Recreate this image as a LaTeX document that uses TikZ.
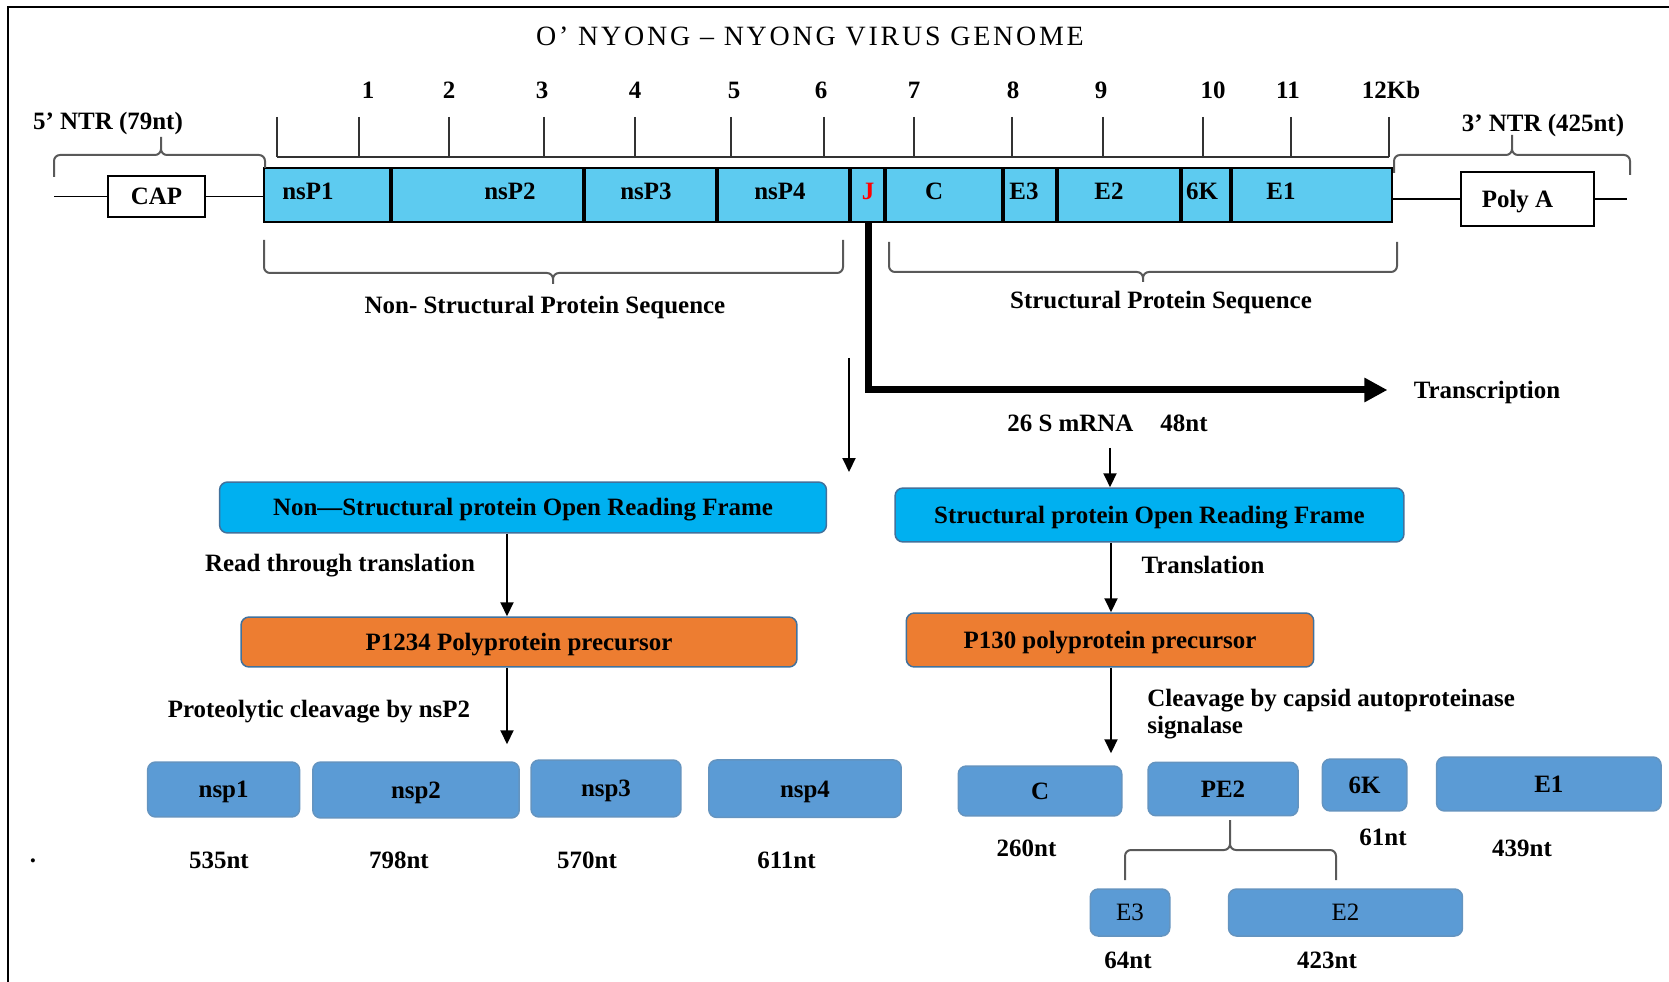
\documentclass[tikz,border=0pt]{standalone}
\usepackage{fontspec}
\setmainfont{Liberation Serif}
\usetikzlibrary{arrows.meta}
\definecolor{genoma}{RGB}{93,203,240}
\definecolor{orfblu}{RGB}{0,176,240}
\definecolor{arancio}{RGB}{237,125,49}
\definecolor{protblu}{RGB}{91,155,213}
\definecolor{bordo}{RGB}{65,113,156}
\tikzset{
  testo/.style={font={\fontsize{14.2}{15.5}\selectfont}, inner sep=0pt, text height=9.6pt, text depth=0pt},
  etich/.style={font={\fontsize{14.2}{15.5}\selectfont\bfseries}, inner sep=0pt, text height=9.6pt, text depth=0pt},
  titolo/.style={font={\fontsize{15.9}{18}\selectfont\addfontfeature{LetterSpace=10}}, inner sep=0pt},
  scatola/.style={etich, draw, rounded corners=0.16cm, line width=0.03cm},
  orf/.style={scatola, fill=orfblu, draw=bordo},
  prec/.style={scatola, fill=arancio, draw=bordo},
  prot/.style={scatola, fill=protblu, draw=protblu!75!gray},
  cassa/.style={etich, draw, fill=white, line width=0.04cm},
  freccia/.style={-{Triangle[length=0.28cm,width=0.26cm]}, line width=0.04cm},
  trascr/.style={-{Triangle[length=0.46cm,width=0.46cm]}, line width=0.14cm},
  graffa/.style={rounded corners=0.12cm, line width=0.04cm, draw=black!65},
  righello/.style={line width=0.04cm, draw=black!80},
}
\begin{document}
\begin{tikzpicture}[x=0.02cm, y=-0.02cm]
\useasboundingbox (0,0) rectangle (1669,982);
% cornice
\draw[line width=0.04cm] (8,7) rectangle (1700,1000);
% titolo
\node[titolo] (titolo) at (810,36) {O’ NYONG – NYONG VIRUS GENOME};
% righello
\draw[righello] (277,157) -- (1389,157);
\foreach \x in {277,359,449,544,635,731,824,914,1012,1103,1203,1291,1389}
  \draw[righello] (\x,117) -- (\x,157);
\foreach \x/\n in {368/1,449/2,542/3,635/4,734/5,821/6,914/7,1013/8,1101/9,1213/10,1288/11,1391/12Kb}
  \node[etich] (num\n) at (\x,90) {\n};
% genoma
\node[draw, fill=genoma, line width=0.04cm, minimum width=22.56cm, minimum height=1.08cm, inner sep=0pt] (barra) at (828,195) {};
\foreach \x in {391,584,717,850,885,1003,1057,1181,1231}
  \draw[line width=0.08cm] (\x,168) -- (\x,222);
\foreach \x/\t in {308/nsP1,510/nsP2,646/nsP3,780/nsP4,934/C,1024/E3,1109/E2,1202/6K,1281/E1}
  \node[etich] (g\t) at (\x,191) {\t};
\node[etich, text=red] (gJ) at (868,191) {J};
% 5' NTR e cap
\node[etich] (ntr5) at (108,121) {5’ NTR (79nt)};
\node[cassa, minimum width=1.94cm, minimum height=0.82cm] (cap) at (156.5,196.5) {CAP};
\coordinate (cap0) at (54,196.5);
\draw[line width=0.03cm] (cap0) -- (cap) -- (barra.west |- cap);
% 3' NTR e poly A
\node[etich] (ntr3) at (1543,123) {3’ NTR (425nt)};
\node[cassa, minimum width=2.66cm, minimum height=1.08cm] (polya) at (1527.5,199) {Poly A\hspace*{0.4cm}};
\coordinate (polyz) at (1627,199);
\draw[line width=0.03cm] (barra.east |- polya) -- (polya) -- (polyz);
% graffe
\draw[graffa] (54,177) -- (54,155) -- (161,155) -- (161,137) (265,168) -- (265,155) -- (161,155) -- (161,137);
\draw[graffa] (1394,173) -- (1394,155) -- (1512,155) -- (1512,135) (1630,175) -- (1630,155) -- (1512,155) -- (1512,135);
\draw[graffa] (264,240) -- (264,273) -- (553,273) -- (553,284) (843,240) -- (843,273) -- (553,273) -- (553,284);
\draw[graffa] (889,242) -- (889,272) -- (1143,272) -- (1143,282) (1397,242) -- (1397,272) -- (1143,272) -- (1143,282);
\node[etich] (nonstr) at (545,305) {Non- Structural Protein Sequence};
\node[etich] (str) at (1161,300) {Structural Protein Sequence};
% trascrizione
\coordinate (jbase) at (868,222);
\node[etich] (trasc) at (1487,390) {Transcription};
\draw[trascr, shorten >=0.52cm] (jbase) |- (trasc);
\node[etich] (mrna) at (1107.5,423) {26 S mRNA\hspace{0.54cm}48nt};
% ramo non strutturale
\coordinate (frA) at (849,358);
\coordinate (frB) at (849,472);
\draw[freccia] (frA) -- (frB);
\coordinate (asseS) at (507,0);
\node[orf, minimum width=12.14cm, minimum height=1.02cm] (orfN) at (523,507.5) {Non—Structural protein Open Reading Frame};
\node[prec, minimum width=11.12cm, minimum height=1cm] (p1234) at (519,642) {P1234 Polyprotein precursor};
\node[etich] (rtt) at (340,563) {Read through translation};
\node[etich] (pcl) at (319,709) {Proteolytic cleavage by nsP2};
\draw[freccia] (orfN.south -| asseS) -- (p1234.north -| asseS);
\node[prot, minimum width=3.04cm, minimum height=1.1cm] (nsp1) at (223.6,789.5) {nsp1};
\node[prot, minimum width=4.13cm, minimum height=1.12cm] (nsp2) at (416,790) {nsp2};
\node[prot, minimum width=3cm, minimum height=1.14cm] (nsp3) at (606,788.5) {nsp3};
\node[prot, minimum width=3.85cm, minimum height=1.15cm] (nsp4) at (805,788.7) {nsp4};
\draw[freccia, shorten >=0.34cm] (p1234.south -| asseS) -- (nsp2.north -| asseS);
\foreach \x/\t in {219/535nt,399/798nt,587/570nt,786.5/611nt}
  \node[etich] (l\t) at (\x,860) {\t};
\node[font={\fontsize{14.2}{15.5}\selectfont\bfseries}, inner sep=0pt, anchor=base] (punto) at (33,862) {.};
% ramo strutturale
\coordinate (mrnaP) at (1110,448);
\coordinate (asseD) at (1111,0);
\node[orf, minimum width=10.18cm, minimum height=1.08cm] (orfS) at (1149.5,515) {Structural protein Open Reading Frame};
\node[prec, minimum width=8.15cm, minimum height=1.08cm] (p130) at (1110,640) {P130 polyprotein precursor};
\node[etich] (tsl) at (1203,565) {Translation};
\node[font={\fontsize{14.2}{15.5}\selectfont\bfseries}, inner sep=0pt, align=left, anchor=west] (cle) at (1147,714) {Cleavage by capsid autoproteinase\\signalase};
\draw[freccia] (mrnaP) -- (orfS.north -| mrnaP);
\draw[freccia] (orfS.south -| asseD) -- (p130.north -| asseD);
\node[prot, minimum width=3.27cm, minimum height=1cm] (pC) at (1040,791) {C};
\node[prot, minimum width=3cm, minimum height=1.07cm] (pPE2) at (1223,789) {PE2};
\node[prot, minimum width=1.69cm, minimum height=1.04cm] (p6K) at (1364.6,785) {6K};
\node[prot, minimum width=4.49cm, minimum height=1.08cm] (pE1) at (1548.8,784) {E1};
\node[prot, testo, minimum width=1.59cm, minimum height=0.94cm] (pE3) at (1130,912.5) {E3};
\node[prot, testo, minimum width=4.68cm, minimum height=0.94cm] (pE2) at (1345.5,912.5) {E2};
\draw[freccia, shorten >=0.24cm] (p130.south -| asseD) -- (pC.north -| asseD);
\draw[graffa] (1125,880) -- (1125,850) -- (1230,850) -- (1230,820) (1336,880) -- (1336,850) -- (1230,850) -- (1230,820);
\foreach \x/\y/\t in {1026.5/848/260nt,1383/837/61nt,1522/848/439nt,1128/960/64nt,1327/960/423nt}
  \node[etich] (l\t) at (\x,\y) {\t};
\end{tikzpicture}
\end{document}
